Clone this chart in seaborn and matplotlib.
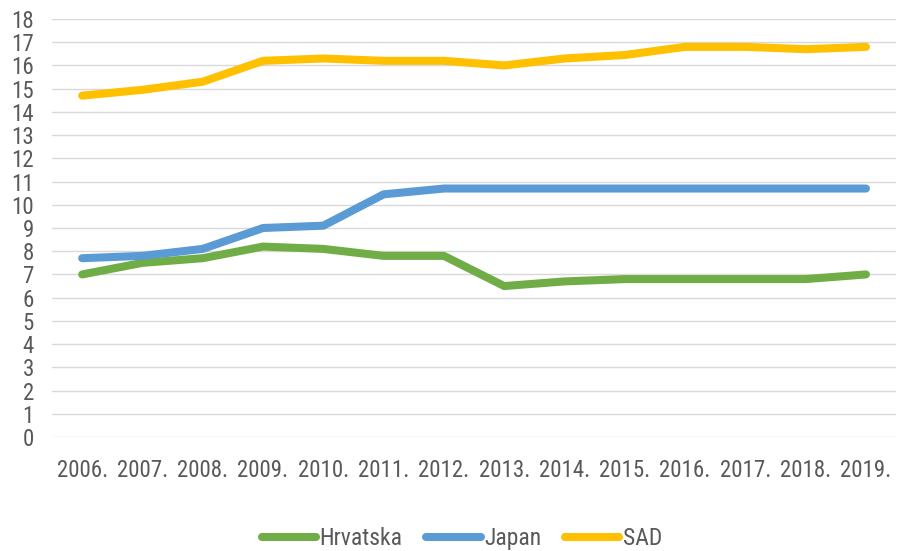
import matplotlib
matplotlib.use("Agg")
import matplotlib.pyplot as plt
from matplotlib import font_manager
import seaborn as sns
import pandas as pd

years = ["2006.", "2007.", "2008.", "2009.", "2010.", "2011.", "2012.",
         "2013.", "2014.", "2015.", "2016.", "2017.", "2018.", "2019."]
hrvatska = [7.0, 7.5, 7.7, 8.2, 8.1, 7.8, 7.8, 6.5, 6.7, 6.8, 6.8, 6.8, 6.8, 7.0]
japan = [7.7, 7.8, 8.1, 9.0, 9.1, 10.45, 10.7, 10.7, 10.7, 10.7, 10.7, 10.7, 10.7, 10.7]
sad = [14.7, 14.95, 15.3, 16.2, 16.3, 16.2, 16.2, 16.0, 16.3, 16.45, 16.8, 16.8, 16.7, 16.8]
series_names = ["Hrvatska", "Japan", "SAD"]
colors = ["#70AD47", "#5B9BD5", "#FFC000"]
y_ticks = list(range(0, 19))

rows = []
for name, vals in zip(series_names, [hrvatska, japan, sad]):
    for i, v in enumerate(vals):
        rows.append({"idx": i, "value": v, "series": name})
df = pd.DataFrame(rows)

sns.set_style("white")

# Prefer a narrow sans face for the labels, if one is installed
fonts = font_manager.fontManager.ttflist
narrow = None
for f in fonts:
    if f.name == "Liberation Sans Narrow" and f.weight in (400, "normal", "regular") and f.style == "normal":
        narrow = (f.name, "normal")
        break
if narrow is None:
    for f in fonts:
        if f.style == "normal" and f.weight in (400, "normal", "regular") and \
                f.stretch in ("condensed", "semi-condensed") and \
                f.name in ("Noto Sans", "Open Sans", "Roboto", "Roboto Condensed", "Open Sans Condensed"):
            narrow = (f.name, f.stretch)
            break
if narrow is None:
    narrow = ("Liberation Sans", "normal")
plt.rcParams["font.family"] = [narrow[0], "DejaVu Sans"]
plt.rcParams["font.stretch"] = narrow[1]
text_color = "#595959"

fig = plt.figure(figsize=(8.97, 5.51), dpi=100)
ax = fig.add_axes([0.058, 0.2069, 0.941, 0.7586])

sns.lineplot(data=df, x="idx", y="value", hue="series", hue_order=series_names,
             palette=colors, linewidth=5.8, solid_capstyle="round",
             solid_joinstyle="round", ax=ax, legend=False, zorder=3)

ax.set_xlim(-0.5, len(years) - 0.5)
ax.set_ylim(0, 18)
ax.set_yticks(y_ticks)
ax.set_yticklabels([str(t) for t in y_ticks], fontsize=16.5, color=text_color)
ax.set_xticks(range(len(years)))
ax.set_xticklabels(years, fontsize=16.5, color=text_color)
ax.tick_params(axis="y", length=0, pad=13)
ax.tick_params(axis="x", length=0, pad=16)
ax.grid(axis="y", color="#D9D9D9", linewidth=1.0)
ax.set_axisbelow(True)
for s in ax.spines.values():
    s.set_visible(False)
ax.set_xlabel("")
ax.set_ylabel("")

handles = [plt.Line2D([], [], color=c, linewidth=5.8) for c in colors]
fig.legend(handles, series_names, loc="center", bbox_to_anchor=(0.515, 0.022),
           ncol=3, frameon=False, fontsize=17, handlelength=2.3,
           handletextpad=0.15, columnspacing=1.0, labelcolor=text_color)

fig.savefig("out.png", dpi=100)
